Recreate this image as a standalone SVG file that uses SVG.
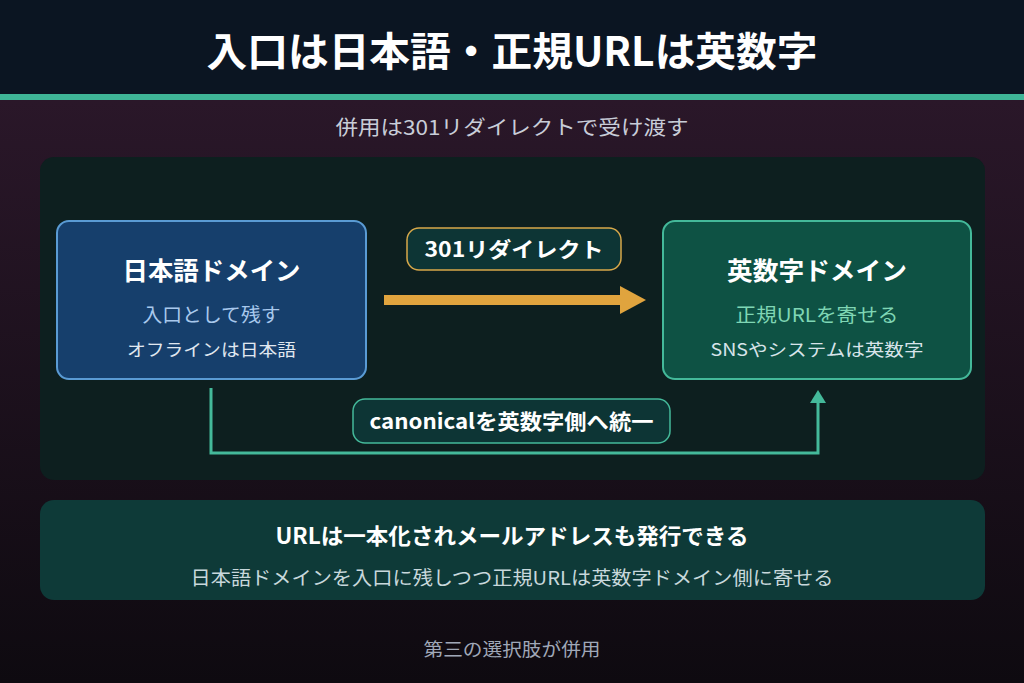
<svg xmlns="http://www.w3.org/2000/svg" width="1024" height="683" viewBox="0 0 1024 683">
<defs>
<linearGradient id="bg" x1="0" y1="0" x2="0" y2="1">
<stop offset="0" stop-color="#2a1729"/>
<stop offset="1" stop-color="#0e0a10"/>
</linearGradient>
<style>
text{font-family:"Noto Sans CJK JP","Noto Sans",sans-serif;text-anchor:middle}
.nodeTitle{font-size:25px;font-weight:700;fill:#ffffff}
.lbl{font-size:21px;font-weight:700;fill:#ffffff}
.line1{font-size:19px}
.line2{font-size:17px}
</style>
</defs>
<rect x="0" y="100" width="1024" height="583" fill="url(#bg)"/>
<rect x="0" y="0" width="1024" height="95" fill="#0b1522"/>
<rect x="0" y="94" width="1024" height="6" fill="#3fb597"/>
<text x="512" y="66" font-size="40" font-weight="700" fill="#ffffff" textLength="611" lengthAdjust="spacingAndGlyphs">入口は日本語・正規URLは英数字</text>
<text x="512" y="135" font-size="20" fill="#c8cdd8" textLength="353" lengthAdjust="spacingAndGlyphs">併用は301リダイレクトで受け渡す</text>
<rect x="40" y="157" width="945" height="323" rx="14" fill="#0d1f1f"/>
<g id="connectors">
<path d="M384,300 H622" stroke="#e0a43e" stroke-width="10" fill="none"/>
<polygon points="620,286 646,300 620,314" fill="#e0a43e"/>
<path d="M211,388 V453 H818 V402" stroke="#44b99a" stroke-width="3" fill="none"/>
<polygon points="810,403 818,390 826,403" fill="#44b99a"/>
</g>
<g id="node-jp">
<rect x="57" y="221" width="309" height="158" rx="12" fill="#163f6c" stroke="#5a9bd4" stroke-width="2"/>
<text class="nodeTitle" x="211.5" y="280" textLength="178" lengthAdjust="spacingAndGlyphs">日本語ドメイン</text>
<text class="line1" x="211.5" y="322" fill="#a8c8ec" textLength="138" lengthAdjust="spacingAndGlyphs">入口として残す</text>
<text class="line2" x="211.5" y="356" fill="#e0e8f0" textLength="169" lengthAdjust="spacingAndGlyphs">オフラインは日本語</text>
</g>
<g id="node-en">
<rect x="663" y="221" width="308" height="158" rx="12" fill="#0e5244" stroke="#44b99a" stroke-width="2"/>
<text class="nodeTitle" x="817" y="280" textLength="180" lengthAdjust="spacingAndGlyphs">英数字ドメイン</text>
<text class="line1" x="817" y="322" fill="#7fd6b4" textLength="163" lengthAdjust="spacingAndGlyphs">正規URLを寄せる</text>
<text class="line2" x="817" y="356" fill="#d8e4ea" textLength="213" lengthAdjust="spacingAndGlyphs">SNSやシステムは英数字</text>
</g>
<g id="label-301">
<rect x="407" y="228" width="214" height="42" rx="12" fill="#0d3535" stroke="#d7a84a" stroke-width="1.5"/>
<text class="lbl" x="514" y="257" textLength="179" lengthAdjust="spacingAndGlyphs">301リダイレクト</text>
</g>
<g id="label-canonical">
<rect x="353" y="399" width="317" height="44" rx="12" fill="#0d3535" stroke="#44b99a" stroke-width="1.5"/>
<text class="lbl" x="511.5" y="429" font-size="20" textLength="284" lengthAdjust="spacingAndGlyphs">canonicalを英数字側へ統一</text>
</g>
<g id="summary">
<rect x="40" y="500" width="945" height="100" rx="14" fill="#0e3a38"/>
<text x="512" y="544" font-size="22" font-weight="700" fill="#ffffff" textLength="473" lengthAdjust="spacingAndGlyphs">URLは一本化されメールアドレスも発行できる</text>
<text x="512" y="585" font-size="19" fill="#c8d8dc" textLength="643" lengthAdjust="spacingAndGlyphs">日本語ドメインを入口に残しつつ正規URLは英数字ドメイン側に寄せる</text>
</g>
<text x="512" y="656" font-size="18" fill="#a0a8b8" textLength="177" lengthAdjust="spacingAndGlyphs">第三の選択肢が併用</text>
</svg>
